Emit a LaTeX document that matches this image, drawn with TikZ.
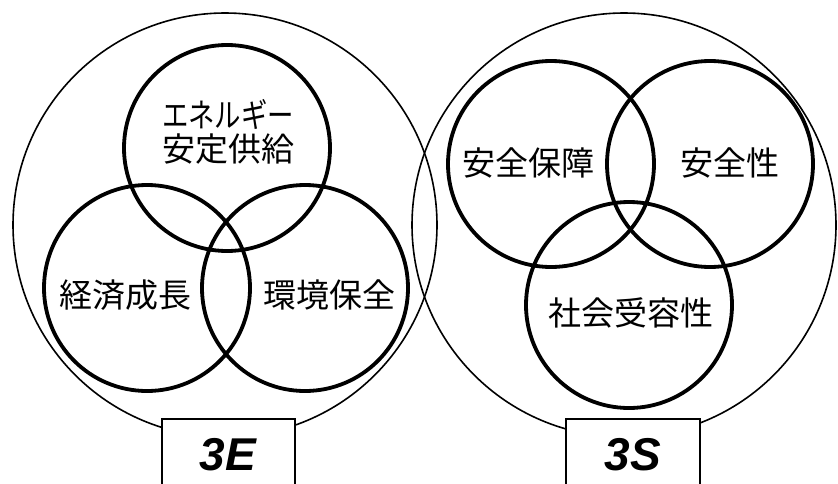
\documentclass[tikz,border=0pt]{standalone}
\usepackage{fontspec}
\usepackage{graphicx}
\newfontfamily\jp{Noto Sans CJK JP}
\newfontfamily\lab{Liberation Sans}
\begin{document}
\begin{tikzpicture}[x=1pt,y=-1pt,
  outer/.style={circle,draw,line width=1.6pt,minimum size=424pt,inner sep=0pt},
  inner/.style={circle,draw,line width=3.8pt,minimum size=206pt,inner sep=0pt},
  txt/.style={font=\jp\fontsize{33}{34}\selectfont,inner sep=0pt,align=center},
  labbox/.style={draw,fill=white,line width=2pt,anchor=north,inner sep=0pt},
  labtxt/.style={font=\lab\bfseries\itshape\fontsize{46}{46}\selectfont,inner sep=0pt}]
\useasboundingbox (0,0) rectangle (838,483);
\clip (0,0) rectangle (838,483);
\fill[white] (0,0) rectangle (838,483);
% outer circles
\node[outer] (E) at (225,225) {};
\node[outer] (S) at (624,225) {};
% 3E circles
\node[inner] (e1) at (227,148) {};
\node[inner] (e2) at (147,288) {};
\node[inner] (e3) at (305,288) {};
% 3S circles
\node[inner] (s1) at (551,164) {};
\node[inner] (s2) at (710,164) {};
\node[inner] (s3) at (629,305) {};
% texts
\node[txt] (t1) at (228,132) {\scalebox{0.8}[1]{エネルギー}\\安定供給};
\node[txt] (t2) at (125,295) {経済成長};
\node[txt] (t3) at (329,295) {環境保全};
\node[txt] (t4) at (528,163) {安全保障};
\node[txt] (t5) at (730,163) {安全性};
\node[txt] (t6) at (631,313) {社会受容性};
% label boxes
\node[labbox,minimum width=133pt,minimum height=80pt] (bE) at (228.5,418) {};
\node[labbox,minimum width=134pt,minimum height=80pt] (bS) at (633,418) {};
\node[labtxt] (lE) at (228,455) {3E};
\node[labtxt] (lS) at (633,455) {3S};
\end{tikzpicture}
\end{document}
